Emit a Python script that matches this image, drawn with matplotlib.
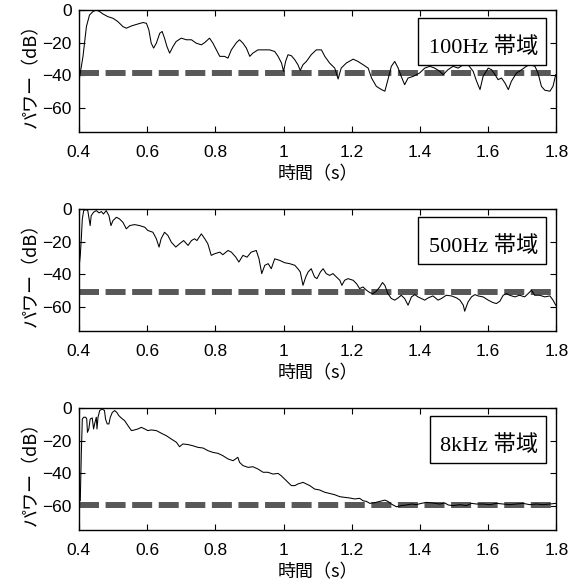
import numpy as np
import matplotlib.pyplot as plt
from matplotlib.patches import Rectangle

# --- data ---
t1 = [0.400, 0.412, 0.422, 0.431, 0.441, 0.451, 0.461, 0.470, 0.485, 0.500, 0.514, 0.529, 0.539, 0.554,
      0.573, 0.588, 0.598, 0.605, 0.612, 0.619, 0.627, 0.637, 0.644, 0.651, 0.658, 0.666, 0.676, 0.685,
      0.700, 0.715, 0.730, 0.744, 0.759, 0.769, 0.783, 0.793, 0.803, 0.813, 0.827, 0.837, 0.847, 0.862,
      0.871, 0.881, 0.891, 0.901, 0.910, 0.925, 0.940, 0.959, 0.974, 0.984, 0.994, 1.000, 1.006, 1.013,
      1.023, 1.033, 1.042, 1.049, 1.057, 1.067, 1.081, 1.096, 1.111, 1.121, 1.135, 1.150, 1.160, 1.169,
      1.184, 1.204, 1.218, 1.233, 1.248, 1.258, 1.272, 1.287, 1.297, 1.306, 1.316, 1.326, 1.336, 1.345,
      1.355, 1.365, 1.380, 1.399, 1.414, 1.429, 1.443, 1.458, 1.468, 1.482, 1.497, 1.512, 1.527, 1.541,
      1.556, 1.566, 1.576, 1.585, 1.600, 1.610, 1.620, 1.629, 1.639, 1.649, 1.659, 1.668, 1.683, 1.698,
      1.712, 1.722, 1.737, 1.746, 1.756, 1.766, 1.781, 1.790, 1.798]
p1 = [-43.8, -28.5, -10.2, -3.1, -1.0, 0.0, -1.0, -2.4, -4.1, -5.1, -7.1, -10.2, -11.2, -9.8,
      -8.6, -7.7, -8.2, -12.2, -20.4, -23.4, -20.4, -14.3, -13.2, -17.3, -22.4, -26.5, -22.4, -19.4,
      -17.3, -18.3, -18.3, -20.4, -21.4, -20.0, -17.3, -20.4, -24.5, -28.5, -28.5, -29.6, -24.5, -20.0,
      -18.3, -20.4, -23.4, -28.5, -26.5, -24.5, -24.5, -24.5, -25.5, -28.5, -32.6, -37.7, -31.6, -27.5,
      -28.1, -30.6, -33.6, -37.1, -33.6, -31.6, -27.5, -24.5, -24.5, -28.5, -32.6, -35.7, -42.4, -35.7,
      -32.6, -30.2, -31.6, -33.6, -35.7, -41.8, -46.9, -48.9, -49.9, -42.8, -34.6, -31.6, -35.7, -40.8,
      -45.9, -41.8, -40.8, -38.7, -35.7, -34.6, -35.7, -37.7, -39.7, -36.7, -34.6, -35.7, -33.6, -33.6,
      -37.7, -43.8, -48.9, -40.8, -35.7, -36.7, -39.7, -42.8, -41.8, -44.8, -48.9, -43.8, -38.7, -36.7,
      -34.6, -33.6, -34.6, -38.7, -46.9, -49.3, -49.9, -46.9, -39.7]

t2 = [0.400, 0.404, 0.407, 0.410, 0.414, 0.420, 0.426, 0.433, 0.436, 0.443, 0.451, 0.459, 0.466, 0.472,
      0.480, 0.488, 0.494, 0.500, 0.510, 0.519, 0.529, 0.539, 0.549, 0.563, 0.578, 0.593, 0.602, 0.617,
      0.627, 0.635, 0.641, 0.651, 0.661, 0.671, 0.684, 0.695, 0.707, 0.720, 0.730, 0.739, 0.746, 0.759,
      0.769, 0.778, 0.788, 0.798, 0.813, 0.822, 0.837, 0.847, 0.860, 0.869, 0.881, 0.893, 0.905, 0.920,
      0.928, 0.936, 0.945, 0.955, 0.964, 0.974, 0.989, 1.003, 1.018, 1.033, 1.042, 1.049, 1.057, 1.065,
      1.072, 1.081, 1.091, 1.098, 1.108, 1.116, 1.125, 1.135, 1.145, 1.155, 1.165, 1.171, 1.179, 1.189,
      1.204, 1.214, 1.223, 1.233, 1.243, 1.253, 1.262, 1.272, 1.282, 1.290, 1.297, 1.306, 1.316, 1.326,
      1.336, 1.345, 1.355, 1.365, 1.375, 1.385, 1.394, 1.404, 1.414, 1.424, 1.438, 1.453, 1.463, 1.477,
      1.492, 1.507, 1.517, 1.527, 1.531, 1.541, 1.551, 1.561, 1.570, 1.585, 1.600, 1.614, 1.624, 1.634,
      1.644, 1.653, 1.663, 1.678, 1.692, 1.707, 1.717, 1.727, 1.736, 1.751, 1.766, 1.781, 1.790, 1.798]
p2 = [-36.7, -28.5, -18.3, -6.1, -1.0, -0.4, -1.0, -10.2, -4.1, -2.0, -1.0, -2.4, -1.6, -3.1,
      -1.0, -4.1, -10.2, -7.1, -5.1, -6.1, -8.2, -12.2, -10.2, -9.6, -10.2, -11.2, -13.2, -14.3,
      -18.3, -23.4, -18.3, -14.3, -16.3, -20.4, -23.4, -21.4, -19.4, -22.4, -19.4, -18.3, -19.4, -15.3,
      -18.3, -21.4, -28.5, -27.5, -26.5, -28.1, -25.5, -26.5, -29.6, -32.6, -28.5, -29.6, -26.5, -25.5,
      -30.6, -39.7, -34.6, -33.6, -36.7, -30.6, -31.6, -33.0, -33.6, -34.6, -36.7, -38.7, -46.9, -41.8,
      -38.7, -36.7, -41.8, -42.8, -38.7, -36.7, -39.7, -40.8, -39.7, -41.8, -43.8, -46.9, -43.8, -42.8,
      -43.8, -45.9, -48.9, -47.9, -49.9, -51.4, -52.0, -50.5, -47.9, -45.2, -46.9, -52.0, -55.0, -56.0,
      -54.6, -53.0, -55.0, -59.1, -54.0, -52.6, -54.0, -55.0, -56.0, -54.6, -53.4, -56.0, -55.0, -53.0,
      -53.4, -54.6, -56.0, -59.1, -62.8, -57.1, -54.0, -52.6, -53.4, -54.0, -56.0, -57.5, -58.1, -56.7,
      -53.0, -52.0, -53.0, -54.0, -53.0, -54.0, -52.0, -49.9, -53.0, -53.0, -54.0, -53.4, -56.0, -59.1]

t3 = [0.400, 0.404, 0.407, 0.410, 0.414, 0.420, 0.423, 0.425, 0.429, 0.433, 0.439, 0.443, 0.446, 0.451,
      0.453, 0.456, 0.461, 0.468, 0.475, 0.478, 0.483, 0.488, 0.492, 0.498, 0.505, 0.511, 0.517, 0.524,
      0.534, 0.544, 0.554, 0.563, 0.573, 0.583, 0.593, 0.602, 0.612, 0.627, 0.637, 0.646, 0.656, 0.671,
      0.686, 0.695, 0.705, 0.720, 0.734, 0.749, 0.764, 0.778, 0.793, 0.808, 0.822, 0.837, 0.852, 0.866,
      0.871, 0.881, 0.896, 0.910, 0.925, 0.940, 0.954, 0.969, 0.984, 0.993, 1.003, 1.013, 1.023, 1.033,
      1.042, 1.057, 1.067, 1.077, 1.091, 1.106, 1.121, 1.135, 1.150, 1.165, 1.179, 1.194, 1.209, 1.223,
      1.233, 1.243, 1.253, 1.267, 1.282, 1.297, 1.306, 1.316, 1.331, 1.345, 1.360, 1.375, 1.389, 1.404,
      1.419, 1.438, 1.458, 1.473, 1.483, 1.497, 1.517, 1.536, 1.551, 1.566, 1.585, 1.605, 1.624, 1.644,
      1.663, 1.683, 1.702, 1.722, 1.741, 1.761, 1.781, 1.798]
p3 = [-57.0, -57.0, -28.3, -6.8, -5.7, -5.7, -6.8, -15.0, -12.9, -6.8, -6.1, -12.9, -9.8, -5.7,
      -12.9, -5.7, -1.6, -0.6, -1.6, -6.8, -9.8, -9.8, -5.7, -2.7, -1.6, -2.7, -4.7, -6.1,
      -7.8, -10.9, -13.9, -13.5, -12.9, -11.9, -12.9, -13.9, -13.5, -13.9, -15.0, -16.0, -17.0, -19.1,
      -21.1, -23.8, -22.1, -22.5, -23.2, -24.2, -24.6, -26.2, -27.3, -27.9, -29.3, -31.3, -32.4, -30.3,
      -33.4, -35.4, -36.5, -36.1, -37.5, -39.5, -39.5, -40.6, -40.2, -41.6, -43.6, -45.7, -47.7, -47.7,
      -46.7, -45.7, -46.7, -47.7, -49.8, -50.4, -51.8, -52.5, -53.3, -54.5, -54.9, -55.3, -55.9, -55.5,
      -57.0, -57.4, -58.6, -58.2, -57.4, -56.6, -57.4, -59.0, -60.7, -60.0, -59.6, -59.0, -59.4, -58.6,
      -58.0, -58.4, -59.0, -58.4, -59.6, -60.0, -59.4, -60.0, -58.6, -59.0, -59.0, -59.4, -58.6, -59.0,
      -59.4, -59.0, -58.6, -59.4, -59.0, -59.4, -59.0, -58.6]

floors = [-39, -51, -59.5]
bands = ['100Hz 帯域', '500Hz 帯域', '8kHz 帯域']
xticks = [0.4, 0.6, 0.8, 1.0, 1.2, 1.4, 1.6, 1.8]
xticklabels = ['0.4', '0.6', '0.8', '1', '1.2', '1.4', '1.6', '1.8']
yticks = [0, -20, -40, -60]

jp = ['Noto Sans CJK JP', 'DejaVu Sans']
box_font = ['Liberation Serif', 'Noto Sans CJK JP']

fig = plt.figure(figsize=(5.76, 5.87), dpi=100)
bottoms = [0.775, 0.436, 0.097]
series = [(t1, p1), (t2, p2), (t3, p3)]

for k in range(3):
    ax = fig.add_axes([0.137, bottoms[k], 0.829, 0.208])
    t, p = series[k]
    ax.axhline(floors[k], color='#585858', lw=4.3, dashes=(3.35, 1.1), zorder=2)
    ax.plot(t, p, color='black', lw=0.75, zorder=3)
    ax.set_xlim(0.4, 1.8)
    ax.set_ylim(-75, 0)
    ax.set_xticks(xticks)
    ax.set_xticklabels(xticklabels)
    ax.set_yticks(yticks)
    ax.set_yticklabels(['0', '\u221220', '\u221240', '\u221260'])
    ax.tick_params(direction='in', top=True, right=True, length=4, width=0.8,
                   labelsize=12.5)
    ax.tick_params(axis='x', pad=9)
    ax.tick_params(axis='y', pad=5)
    for lab in ax.get_xticklabels() + ax.get_yticklabels():
        lab.set_family('Liberation Sans')
    for s in ax.spines.values():
        s.set_linewidth(1.0)
    ax.set_xlabel('時間（s）', family=jp, fontsize=13, labelpad=4)
    ax.set_ylabel('パワー（dB）', family=jp, fontsize=13, labelpad=2)

    # label box in the upper right
    txt = ax.text(0.962, 0.69, bands[k], transform=ax.transAxes, ha='right', va='center',
                  family=box_font, fontsize=16, zorder=5)
    fig.canvas.draw()
    bb = txt.get_window_extent().transformed(ax.transAxes.inverted())
    left = bb.x0 - 0.022
    ax.add_patch(Rectangle((left, 0.552), 0.978 - left, 0.383, transform=ax.transAxes,
                           facecolor='white', edgecolor='black', lw=1.0, zorder=4))

fig.savefig('out.png', dpi=100)
